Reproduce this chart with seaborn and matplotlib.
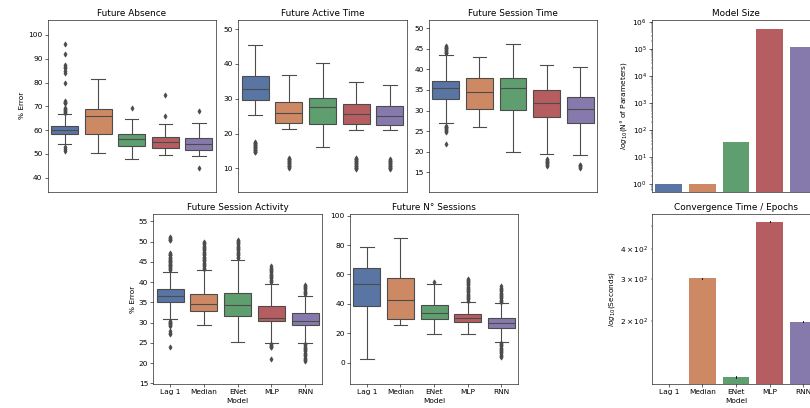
import colorsys
import numpy as np
import pandas as pd
import matplotlib
matplotlib.use("Agg")
import matplotlib.pyplot as plt
import seaborn as sns

DPI = 53
models = ["Lag 1", "Median", "ENet", "MLP", "RNN"]

# ---------------- box statistics ----------------
# Future Absence
absence_lo = [54.3, 50.2, 47.8, 49.4, 49.1]
absence_q1 = [58.4, 58.2, 53.3, 52.3, 51.8]
absence_med = [60.0, 65.8, 56.4, 54.9, 54.0]
absence_q3 = [61.7, 69.0, 58.2, 57.0, 56.7]
absence_hi = [66.6, 81.4, 64.5, 62.4, 63.0]
absence_fliers = [
    [96.2, 91.9, 87.2, 86.6, 86.0, 84.9, 84.2, 79.7, 72.4, 72.0, 71.6, 71.2, 69.2, 68.8, 68.4,
     68.0, 67.6, 67.3, 53.0, 51.9, 51.4],
    [],
    [69.2],
    [74.6, 65.8],
    [68.0, 44.2],
]

# Future Active Time
active_lo = [25.3, 21.2, 16.2, 21.0, 20.9]
active_q1 = [29.7, 22.9, 22.8, 22.7, 22.4]
active_med = [32.9, 26.0, 27.6, 25.6, 25.1]
active_q3 = [36.5, 29.1, 30.3, 28.6, 28.0]
active_hi = [45.4, 36.8, 40.3, 34.9, 33.9]
active_fliers = [
    [14.6, 14.8, 15.0, 15.2, 15.4, 15.6, 15.8, 16.0, 16.2, 16.4, 16.6, 16.8, 17.0, 17.2, 17.4, 17.6],
    [10.2, 10.4, 10.6, 10.8, 11.0, 11.2, 11.4, 11.6, 11.8, 12.0, 12.2, 12.4, 12.6, 12.8, 12.9],
    [],
    [9.8, 10.0, 10.2, 10.4, 10.6, 10.8, 11.0, 11.2, 11.4, 11.6, 11.8, 12.0, 12.2, 12.4, 12.6,
     12.8, 13.0],
    [9.8, 10.0, 10.2, 10.4, 10.6, 10.8, 11.0, 11.2, 11.4, 11.6, 11.8, 12.0, 12.2, 12.4, 12.6],
]

# Future Session Time
stime_lo = [27.1, 25.9, 19.9, 19.4, 19.3]
stime_q1 = [32.9, 30.5, 30.2, 28.4, 27.1]
stime_med = [35.4, 34.4, 35.4, 31.9, 30.4]
stime_q3 = [37.2, 37.8, 37.8, 34.9, 33.3]
stime_hi = [43.6, 43.1, 46.1, 41.1, 40.5]
stime_fliers = [
    [43.9, 44.1, 44.3, 44.5, 44.7, 44.9, 45.1, 45.3, 45.5, 45.8,
     26.3, 26.1, 25.9, 25.7, 25.5, 25.3, 25.1, 24.9, 21.9],
    [],
    [],
    [18.2, 18.0, 17.8, 17.6, 17.4, 17.2, 17.0, 16.8, 16.6],
    [16.9, 16.7, 16.5, 16.3, 16.0],
]

# Future Session Activity
sact_lo = [30.9, 29.5, 25.3, 25.0, 25.1]
sact_q1 = [35.2, 33.0, 31.7, 30.4, 29.4]
sact_med = [36.5, 34.6, 34.3, 31.2, 30.3]
sact_q3 = [38.3, 37.1, 37.3, 34.1, 32.4]
sact_hi = [42.6, 43.0, 45.5, 39.6, 36.7]
sact_fliers = [
    [43.1, 43.3, 43.5, 43.7, 43.9, 44.1, 44.3, 44.5, 44.7, 44.9, 45.1, 45.3, 45.5, 45.7, 45.9,
     46.1, 46.6, 46.8, 47.0, 47.3, 50.3, 50.5, 50.7, 51.0, 51.2,
     30.4, 30.2, 30.0, 29.8, 29.6, 29.4, 29.1, 27.9, 27.5, 27.1, 23.9],
    [43.3, 43.6, 43.9, 44.2, 44.5, 44.8, 45.1, 45.4, 45.7, 46.0, 46.3, 46.6, 46.9, 47.2, 47.5,
     47.8, 48.1, 48.4, 48.7, 49.0, 49.3, 49.6, 50.0],
    [46.0, 46.3, 46.6, 46.9, 47.2, 47.5, 47.8, 48.1, 48.4, 48.7, 49.0, 49.3, 49.6, 49.9, 50.2,
     50.5],
    [40.0, 40.3, 40.6, 40.9, 41.2, 41.5, 41.8, 42.1, 42.4, 42.7, 43.0, 43.3, 43.6, 44.0,
     24.7, 24.5, 24.3, 24.1, 23.9, 21.0],
    [37.0, 37.3, 37.6, 37.9, 38.2, 38.5, 38.8, 39.1, 39.3,
     24.7, 24.4, 24.1, 23.8, 23.5, 23.2, 22.9, 22.6, 22.3, 22.0, 21.7, 21.4, 21.1, 20.8, 20.6],
]

# Future N° Sessions
nsess_lo = [2.3, 25.3, 19.6, 19.6, 14.4]
nsess_q1 = [38.6, 29.6, 29.6, 27.5, 23.9]
nsess_med = [53.5, 42.7, 33.9, 30.7, 27.1]
nsess_q3 = [64.3, 57.8, 39.3, 33.2, 30.7]
nsess_hi = [79.0, 84.9, 53.5, 41.6, 40.6]
nsess_fliers = [
    [],
    [],
    [54.9],
    [42.2, 43.0, 43.8, 44.6, 45.4, 46.2, 47.0, 47.8, 48.6, 49.4, 50.2, 51.0, 51.8, 52.6, 53.4,
     54.2, 55.0, 55.8, 56.5, 57.1],
    [41.3, 42.1, 42.9, 43.7, 44.5, 45.3, 46.1, 46.9, 47.7, 48.5, 49.3, 50.1, 50.9, 51.9,
     13.5, 12.7, 11.9, 11.1, 10.3, 9.5, 8.7, 7.9, 7.1, 6.3, 5.5, 4.7, 4.1],
]

# Model size (number of parameters)
model_size = [1, 1, 37.6, 5.2e5, 1.2e5]

# Convergence time / epochs (seconds), two runs per model
conv_run1 = [0, 300, 116, 519, 198]
conv_run2 = [0, 304, 117.5, 523, 200]


def box_frame(lo, q1, med, q3, hi, fliers):
    """Long-form table whose box statistics equal the values read above."""
    rows = []
    k = 100
    for m, a, b, c, d, e, f in zip(models, lo, q1, med, q3, hi, fliers):
        vals = list(f) + [a] + [b] * k + [c] * k + [d] * k + [e]
        rows += [(m, v) for v in vals]
    return pd.DataFrame(rows, columns=["Model", "value"])


fig = plt.figure(figsize=(810 / DPI, 408 / DPI), dpi=DPI)


def add_ax(l, t, r, b):
    return fig.add_axes([l / 810, 1 - b / 408, (r - l) / 810, (b - t) / 408])


ax1 = add_ax(47.7, 20, 215.7, 191.7)
ax2 = add_ax(238.3, 20, 406.7, 191.7)
ax3 = add_ax(429, 20, 597, 191.7)
ax4 = add_ax(652, 20, 820, 191.7)
ax5 = add_ax(153.3, 214, 322, 384.3)
ax6 = add_ax(350, 214, 518.3, 384.3)
ax7 = add_ax(652, 214, 820, 384.3)

pal = sns.color_palette("deep", 5, desat=0.75)
lum = min(colorsys.rgb_to_hls(*c)[1] for c in pal) * 0.6
gray = (lum, lum, lum)

box_specs = [
    (ax1, "Future Absence", (absence_lo, absence_q1, absence_med, absence_q3, absence_hi, absence_fliers),
     (34.1, 106.3), np.arange(40, 101, 10), True, False),
    (ax2, "Future Active Time", (active_lo, active_q1, active_med, active_q3, active_hi, active_fliers),
     (3.3, 52.6), np.arange(10, 51, 10), False, False),
    (ax3, "Future Session Time", (stime_lo, stime_q1, stime_med, stime_q3, stime_hi, stime_fliers),
     (10.3, 52.0), np.arange(15, 51, 5), False, False),
    (ax5, "Future Session Activity", (sact_lo, sact_q1, sact_med, sact_q3, sact_hi, sact_fliers),
     (14.8, 56.8), np.arange(15, 56, 5), True, True),
    (ax6, "Future N° Sessions", (nsess_lo, nsess_q1, nsess_med, nsess_q3, nsess_hi, nsess_fliers),
     (-14.7, 101.1), np.arange(0, 101, 20), False, True),
]

for ax, title, stats, ylim, yticks, ylab, xlab in box_specs:
    df = box_frame(*stats)
    sns.boxplot(data=df, x="Model", y="value", hue="Model", order=models, hue_order=models,
                palette="deep", saturation=0.75, legend=False, linewidth=1.5,
                linecolor=gray,
                flierprops=dict(marker="d", markerfacecolor=gray, markeredgecolor=gray,
                                markersize=5),
                ax=ax)
    ax.set_title(title)
    ax.set_ylim(*ylim)
    ax.set_yticks(yticks)
    ax.set_ylabel("% Error" if ylab else "")
    if xlab:
        ax.set_xlabel("Model")
    else:
        ax.set_xticks([])
        ax.set_xlabel("")

# Model size
sns.barplot(x=models, y=model_size, hue=models, palette="deep", legend=False,
            errorbar=None, ax=ax4)
ax4.set_yscale("log")
ax4.set_ylim(0.54, 1.15e6)
ax4.set_xlim(-0.5, 4.5)
ax4.set_xticks([])
ax4.set_title("Model Size")
ax4.set_ylabel("$log_{10}$(N° of Parameters)")

# Convergence time
conv_df = pd.DataFrame({
    "Model": models + models,
    "Seconds": conv_run1 + conv_run2,
})
sns.barplot(data=conv_df, x="Model", y="Seconds", hue="Model", order=models, hue_order=models,
            palette="deep", legend=False, errorbar=("pi", 100),
            err_kws={"color": "k", "linewidth": 1.2}, ax=ax7)
ax7.set_yscale("log")
ax7.set_ylim(109, 561)
ax7.set_xlim(-0.5, 4.5)
ax7.set_title("Convergence Time / Epochs")
ax7.set_ylabel("$log_{10}$(Seconds)")
ax7.set_xlabel("Model")

fig.savefig("out.png", dpi=DPI)
